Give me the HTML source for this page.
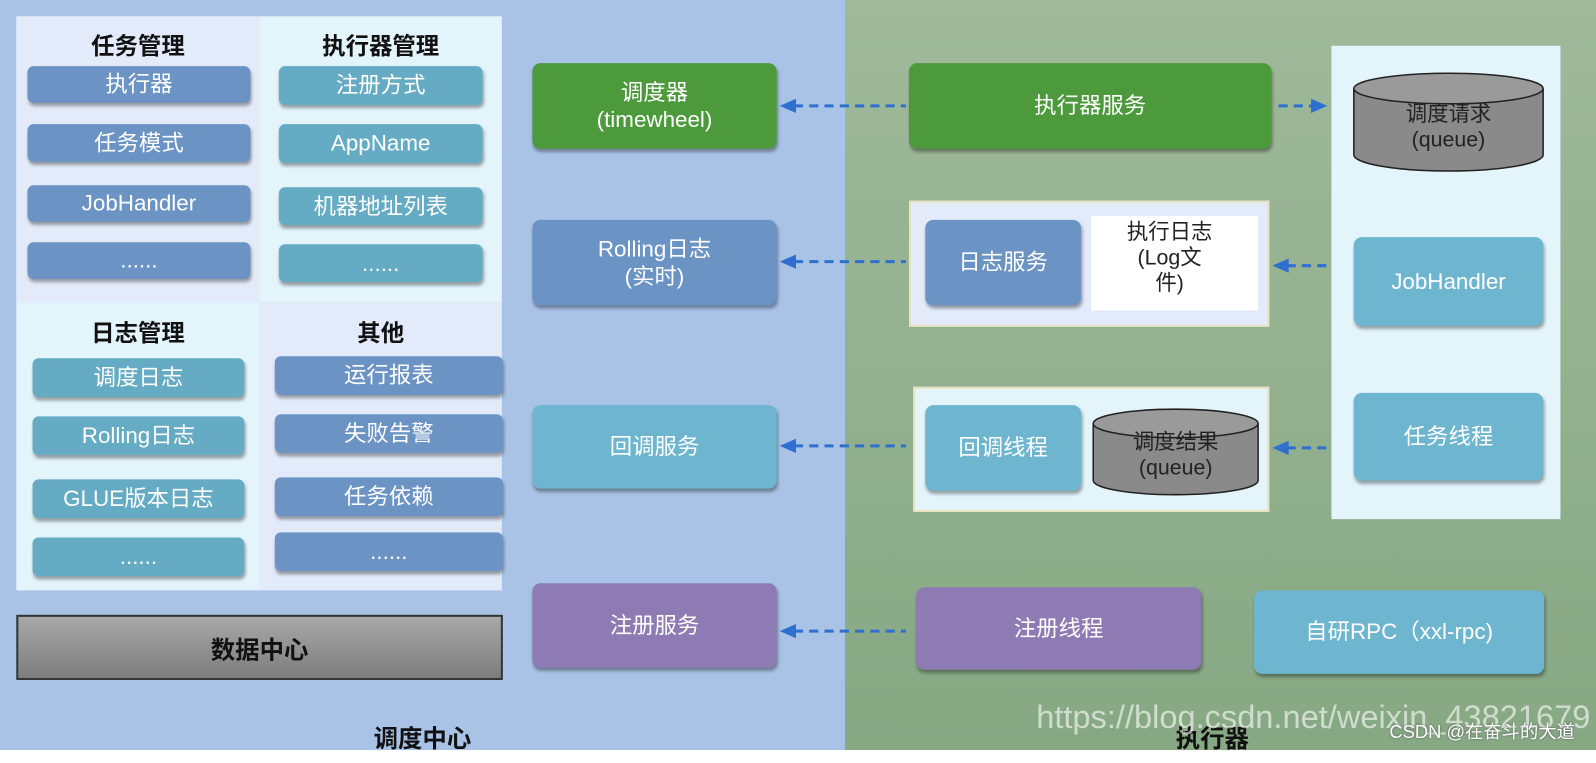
<!DOCTYPE html>
<html><head><meta charset="utf-8"><style>
*{margin:0;padding:0;box-sizing:border-box}
body{width:1596px;height:750px;overflow:hidden;position:relative;background:#fff;font-family:"Liberation Sans","Noto Sans CJK SC",sans-serif}
div{position:absolute}
#w{left:0;top:0;width:1568px;height:737px;transform:scale(1.0179);transform-origin:0 0}
.b{display:flex;align-items:center;justify-content:center;text-align:center;color:#fff;border-radius:8px;box-shadow:1px 3px 3px rgba(0,0,0,.35);font-size:22px;line-height:1.25}
.s{font-size:22px;border-radius:6px}
.db{background:#6b93c4}.tl{background:#64abc3}.gr{background:#4d9a3c}.lt{background:#6eb6d0}.pu{background:#8f7bb3}
.h{font-weight:bold;font-size:23px;color:#111;text-align:center;white-space:nowrap}
.cyl{color:#222;font-size:21px;line-height:1.2}
</style></head><body>
<div style="left:0;top:0;width:845px;height:750px;background:#a9c3e6"></div>
<div style="left:845px;top:0;width:751px;height:750px;background:linear-gradient(#a0b99b,#86a883)"></div>
<div id="w">
<div style="left:16px;top:16px;width:239px;height:281px;background:#e3ebfa"></div>
<div style="left:255px;top:16px;width:238px;height:281px;background:#e3f4fb"></div>
<div style="left:16px;top:297px;width:239px;height:283px;background:#e3f4fb"></div>
<div style="left:255px;top:297px;width:238px;height:283px;background:#e3ebfa"></div>

<div class="h" style="left:16px;top:26px;width:239px">任务管理</div>
<div class="h" style="left:255px;top:26px;width:238px">执行器管理</div>
<div class="h" style="left:16px;top:308px;width:239px">日志管理</div>
<div class="h" style="left:255px;top:308px;width:238px">其他</div>

<div class="b s db" style="left:27px;top:65px;width:219px;height:36px">执行器</div>
<div class="b s db" style="left:27px;top:122px;width:219px;height:37px">任务模式</div>
<div class="b s db" style="left:27px;top:182px;width:219px;height:36px">JobHandler</div>
<div class="b s db" style="left:27px;top:238px;width:219px;height:36px">......</div>
<div class="b s tl" style="left:274px;top:65px;width:200px;height:38px">注册方式</div>
<div class="b s tl" style="left:274px;top:122px;width:200px;height:38px">AppName</div>
<div class="b s tl" style="left:274px;top:184px;width:200px;height:37px">机器地址列表</div>
<div class="b s tl" style="left:274px;top:240px;width:200px;height:37px">......</div>

<div class="b s tl" style="left:32px;top:352px;width:208px;height:38px">调度日志</div>
<div class="b s tl" style="left:32px;top:409px;width:208px;height:38px">Rolling日志</div>
<div class="b s tl" style="left:32px;top:471px;width:208px;height:38px">GLUE版本日志</div>
<div class="b s tl" style="left:32px;top:528px;width:208px;height:38px">......</div>
<div class="b s db" style="left:270px;top:350px;width:224px;height:38px">运行报表</div>
<div class="b s db" style="left:270px;top:407px;width:224px;height:38px">失败告警</div>
<div class="b s db" style="left:270px;top:469px;width:224px;height:38px">任务依赖</div>
<div class="b s db" style="left:270px;top:523px;width:224px;height:38px">......</div>

<div style="left:16px;top:604px;width:478px;height:64px;background:linear-gradient(#a8a8a8,#7d7d7d);border:2px solid #333;display:flex;align-items:center;justify-content:center;font-weight:bold;font-size:24px;color:#111">数据中心</div>
<div class="h" style="left:350px;top:706px;width:130px;font-size:24px">调度中心</div>

<div class="b gr" style="left:523px;top:62px;width:240px;height:84px">调度器<br>(timewheel)</div>
<div class="b db" style="left:523px;top:216px;width:240px;height:84px">Rolling日志<br>(实时)</div>
<div class="b lt" style="left:523px;top:398px;width:240px;height:82px">回调服务</div>
<div class="b pu" style="left:523px;top:573px;width:240px;height:83px">注册服务</div>

<div class="b gr" style="left:893px;top:62px;width:356px;height:84px">执行器服务</div>
<div style="left:893px;top:197px;width:354px;height:124px;background:#e3ebfa;border:2px solid #e8e2c0"></div>
<div class="b db" style="left:909px;top:216px;width:153px;height:84px">日志服务</div>
<div style="left:1072px;top:212px;width:164px;height:93px;background:#fff;color:#222;font-size:21px;line-height:1.2;text-align:center;padding:4px 10px 0 0">执行日志<br>(Log文<br>件)</div>
<div style="left:897px;top:380px;width:350px;height:123px;background:#e3f4fb;border:2px solid #e8e2c0"></div>
<div class="b lt" style="left:909px;top:398px;width:153px;height:84px">回调线程</div>
<svg style="position:absolute;left:1072px;top:400px" width="168" height="90"><path d="M2 16 V72 A81 14 0 0 0 164 72 V16" fill="#8a8a8a" stroke="#222" stroke-width="1.5"/><ellipse cx="83" cy="16" rx="81" ry="14" fill="#9a9a9a" stroke="#222" stroke-width="1.5"/></svg>
<div class="cyl" style="left:1072px;top:422px;width:166px;text-align:center">调度结果<br>(queue)</div>

<div style="left:1308px;top:45px;width:225px;height:465px;background:#e3f4fb"></div>
<svg style="position:absolute;left:1328px;top:70px" width="190" height="102"><path d="M2 17 V82 A93 16 0 0 0 188 82 V17" fill="#8a8a8a" stroke="#222" stroke-width="1.5"/><ellipse cx="95" cy="17" rx="93" ry="15" fill="#9a9a9a" stroke="#222" stroke-width="1.5"/></svg>
<div class="cyl" style="left:1328px;top:100px;width:190px;text-align:center">调度请求<br>(queue)</div>
<div class="b lt" style="left:1330px;top:233px;width:186px;height:87px">JobHandler</div>
<div class="b lt" style="left:1330px;top:386px;width:186px;height:86px">任务线程</div>

<div class="b pu" style="left:900px;top:577px;width:280px;height:81px">注册线程</div>
<div class="b lt" style="left:1232px;top:580px;width:285px;height:82px">自研RPC（xxl-rpc)</div>

<svg style="position:absolute;left:0;top:0" width="1596" height="750">
<g stroke="#2f6fd0" stroke-width="3" stroke-dasharray="9,6" fill="none">
<line x1="780" y1="104" x2="890" y2="104"/><line x1="780" y1="257" x2="890" y2="257"/><line x1="780" y1="438" x2="890" y2="438"/><line x1="780" y1="620" x2="890" y2="620"/>
<line x1="1256" y1="104" x2="1292" y2="104"/><line x1="1264" y1="261" x2="1303" y2="261"/><line x1="1264" y1="440" x2="1303" y2="440"/>
</g>
<g fill="#2f6fd0">
<polygon points="766,104 782,97 782,111"/><polygon points="766,257 782,250 782,264"/><polygon points="766,438 782,431 782,445"/><polygon points="766,620 782,613 782,627"/>
<polygon points="1304,104 1288,97 1288,111"/><polygon points="1250,261 1266,254 1266,268"/><polygon points="1250,440 1266,433 1266,447"/>
</g>
</svg>

<div class="h" style="left:1155px;top:706px;font-size:24px;text-align:left">执行器</div>
<div style="left:1018px;top:686px;font-family:'Liberation Sans',sans-serif;font-size:32px;color:rgba(255,255,255,.6);white-space:nowrap">https://blog.csdn.net/weixin_43821679</div>
<div style="left:1365px;top:705px;font-size:18px;color:#fff;white-space:nowrap;text-shadow:0 0 2px #555">CSDN @在奋斗的大道</div>
</div>
</body></html>
